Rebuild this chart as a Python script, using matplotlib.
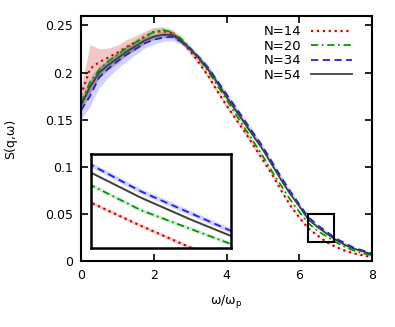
import numpy as np
import matplotlib
matplotlib.use("Agg")
import matplotlib.pyplot as plt
from matplotlib.patches import Rectangle
from matplotlib.ticker import FuncFormatter

plt.rcParams["font.family"] = "DejaVu Sans"
plt.rcParams["font.size"] = 9

# omega / omega_p
w = np.arange(0, 8.01, 0.25)

s14 = [0.176, 0.204, 0.211, 0.216, 0.221, 0.227, 0.232, 0.238, 0.243, 0.244, 0.242,
       0.234, 0.223, 0.210, 0.196, 0.180, 0.165, 0.151, 0.137, 0.122, 0.107, 0.092,
       0.075, 0.059, 0.046, 0.0344, 0.027, 0.020, 0.015, 0.011, 0.008, 0.006, 0.004]
s20 = [0.168, 0.190, 0.203, 0.212, 0.219, 0.226, 0.232, 0.238, 0.243, 0.245, 0.243,
       0.236, 0.226, 0.214, 0.201, 0.186, 0.171, 0.156, 0.141, 0.126, 0.111, 0.095,
       0.080, 0.065, 0.052, 0.040, 0.032, 0.026, 0.020, 0.015, 0.011, 0.008, 0.006]
s34 = [0.160, 0.175, 0.195, 0.204, 0.212, 0.219, 0.225, 0.231, 0.235, 0.237, 0.238,
       0.233, 0.225, 0.216, 0.205, 0.191, 0.177, 0.163, 0.149, 0.135, 0.121, 0.105,
       0.089, 0.074, 0.060, 0.0465, 0.038, 0.031, 0.024, 0.019, 0.014, 0.011, 0.008]
s54 = [0.165, 0.185, 0.200, 0.208, 0.215, 0.222, 0.228, 0.234, 0.238, 0.240, 0.240,
       0.234, 0.225, 0.215, 0.203, 0.189, 0.174, 0.160, 0.146, 0.132, 0.118, 0.102,
       0.086, 0.071, 0.058, 0.044, 0.036, 0.029, 0.0225, 0.017, 0.013, 0.010, 0.007]

# statistical error bands
e14 = [0.008, 0.026, 0.014, 0.010, 0.008, 0.008, 0.007, 0.006, 0.005, 0.004, 0.003,
       0.003, 0.003, 0.002, 0.002, 0.002, 0.002, 0.002, 0.002, 0.002, 0.0015, 0.0015,
       0.001, 0.001, 0.001, 0.0005, 0.0005, 0.0005, 0.0005, 0.0005, 0.0005, 0.0005, 0.0005]
e20 = [0.006, 0.006, 0.005, 0.005, 0.004, 0.004, 0.004, 0.004, 0.004, 0.004, 0.003,
       0.003, 0.003, 0.002, 0.002, 0.002, 0.002, 0.002, 0.002, 0.002, 0.0015, 0.0015,
       0.001, 0.001, 0.001, 0.0006, 0.0006, 0.0006, 0.0006, 0.0005, 0.0005, 0.0005, 0.0005]
e34 = [0.010, 0.011, 0.011, 0.009, 0.008, 0.007, 0.006, 0.005, 0.005, 0.004, 0.004,
       0.003, 0.003, 0.003, 0.003, 0.002, 0.002, 0.002, 0.002, 0.002, 0.002, 0.002,
       0.0015, 0.0015, 0.0012, 0.0008, 0.0008, 0.0008, 0.0008, 0.0008, 0.0008, 0.0008, 0.0008]
e54 = [0.007, 0.007, 0.006, 0.005, 0.005, 0.004, 0.004, 0.004, 0.003, 0.003, 0.003,
       0.003, 0.002, 0.002, 0.002, 0.002, 0.002, 0.002, 0.002, 0.002, 0.001, 0.001,
       0.001, 0.001, 0.001, 0.0004, 0.0004, 0.0004, 0.0004, 0.0004, 0.0004, 0.0004, 0.0004]

labels = ["N=14", "N=20", "N=34", "N=54"]
series = [s14, s20, s34, s54]
errors = [e14, e20, e34, e54]
colors = ["#d40000", "#009a00", "#2020e0", "#404040"]
band_colors = ["#e06060", "#70c070", "#6a6aff", "#505050"]
band_alpha = [0.35, 0.3, 0.3, 0.35]
styles = [dict(linestyle=":", lw=1.6),
          dict(linestyle=(0, (4, 2, 1, 2)), lw=1.3),
          dict(linestyle=(0, (4, 2.5)), lw=1.3),
          dict(linestyle="-", lw=1.3)]

zoom_x = (6.25, 6.95)
zoom_y = (0.02, 0.05)

fig = plt.figure(figsize=(3.95, 3.27), dpi=100)
ax = fig.add_axes([0.205, 0.202, 0.737, 0.749])


def draw(a):
    for s, e, bc, al in zip(series, errors, band_colors, band_alpha):
        s = np.array(s)
        e = np.array(e)
        a.fill_between(w, s - e, s + e, color=bc, alpha=al, lw=0)
    for s, c, st, lab in zip(series, colors, styles, labels):
        a.plot(w, s, color=c, label=lab, **st)


draw(ax)
ax.set_xlim(0, 8)
ax.set_ylim(0, 0.26)
ax.set_xticks([0, 2, 4, 6, 8])
ax.set_yticks([0, 0.05, 0.1, 0.15, 0.2, 0.25])
ax.yaxis.set_major_formatter(FuncFormatter(lambda v, p: ("%g" % round(v, 3))))
ax.tick_params(direction="in", top=True, right=True, length=5, width=1.2, pad=6)
for sp in ax.spines.values():
    sp.set_linewidth(1.5)
ax.set_xlabel(r"ω/ω$_\mathrm{p}$", labelpad=8)
ax.set_ylabel("S(q,ω)", labelpad=20)

ax.add_patch(Rectangle((zoom_x[0], zoom_y[0]), zoom_x[1] - zoom_x[0], zoom_y[1] - zoom_y[0],
                       fill=False, ec="black", lw=1.5, zorder=5))

leg = ax.legend(loc="upper right", bbox_to_anchor=(0.948, 0.984), frameon=False,
                markerfirst=False, handlelength=3.1, labelspacing=0.12,
                borderaxespad=0.0, handletextpad=0.7, fontsize=9.5)

ins = fig.add_axes([0.231, 0.242, 0.354, 0.287])
draw(ins)
ins.set_xlim(*zoom_x)
ins.set_ylim(*zoom_y)
ins.set_xticks([])
ins.set_yticks([])
for sp in ins.spines.values():
    sp.set_linewidth(1.8)

fig.savefig("out.png", dpi=100)
